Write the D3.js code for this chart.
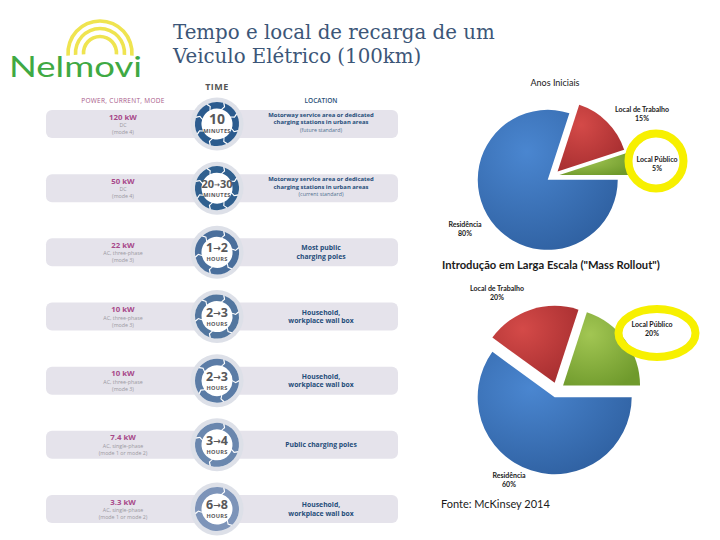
<!DOCTYPE html>
<html><head><meta charset="utf-8">
<script src="https://cdn.jsdelivr.net/npm/d3@7"></script>
<style>html,body{margin:0;padding:0;background:#fff;}svg{display:block;}</style>
</head><body>
<svg id="chart" width="720" height="540"></svg>
<script>
// ---------- data ----------
const rowPower = ["120 kW","50 kW","22 kW","10 kW","10 kW","7.4 kW","3.3 kW"];
const rowCurrent = ["DC","DC","AC, three-phase","AC, three-phase","AC, three-phase","AC, single-phase","AC, single-phase"];
const rowMode = ["(mode 4)","(mode 4)","(mode 3)","(mode 3)","(mode 3)","(mode 1 or mode 2)","(mode 1 or mode 2)"];
const rowTimeFrom = ["10","20","1","2","2","3","6"];
const rowTimeTo = ["","30","2","3","3","4","8"];
const rowUnit = ["MINUTES","MINUTES","HOURS","HOURS","HOURS","HOURS","HOURS"];
const rowLocation = [
  ["Motorway service area or dedicated","charging stations in urban areas"],
  ["Motorway service area or dedicated","charging stations in urban areas"],
  ["Most public","charging poles"],
  ["Household,","workplace wall box"],
  ["Household,","workplace wall box"],
  ["Public charging poles"],
  ["Household,","workplace wall box"]
];
const rowLocationNote = ["(future standard)","(current standard)","","","","",""];
const pieCategories = ["Residência","Local de Trabalho","Local Público"];
const earlyShares = [80,15,5];
const massShares = [60,20,20];

// ---------- styles ----------
const ringColors = ["#2b5b8e","#30608f","#4a6f9c","#52769f","#5b7ca6","#6a87ae","#7d94b9"];
const ringSegments = [8,8,6,6,5,4,3];
const svg = d3.select("#chart");
const defs = svg.append("defs");

// ---------- logo ----------
const logo = svg.append("g");
[32,24.5,16.5].forEach(r=>{
  logo.append("path").attr("d", d3.arc()({innerRadius:r-1.8, outerRadius:r+1.8, startAngle:-Math.PI/2-0.08, endAngle:Math.PI/2+0.08}))
    .attr("transform","translate(100,53)").attr("fill","#efe450");
});
logo.append("text").attr("x",9).attr("y",77).attr("font-family","Lato, 'Open Sans', sans-serif")
  .attr("font-size",28).attr("font-weight",400).attr("fill","#3fa943").attr("textLength",133).attr("lengthAdjust","spacingAndGlyphs").text("Nelmovi");

// ---------- title ----------
const title = svg.append("text").attr("font-family","'DejaVu Serif', Georgia, serif").attr("font-size",19.8).attr("fill","#3c5678");
title.append("tspan").attr("x",173).attr("y",39).text("Tempo e local de recarga de um");
title.append("tspan").attr("x",173).attr("y",63).text("Veiculo Elétrico (100km)");

// ---------- left infographic ----------
const left = svg.append("g").attr("font-family","'Open Sans', sans-serif");
const y = d3.scalePoint().domain(d3.range(rowPower.length)).range([124,509]);
const cx = 217, barX0 = 46, barX1 = 398, powerX = 123, locX = 321;

left.append("text").attr("x",cx).attr("y",90).attr("text-anchor","middle").attr("font-size",9).attr("font-weight",700).attr("fill","#555").attr("letter-spacing",0.5).text("TIME");
left.append("text").attr("x",powerX).attr("y",103).attr("text-anchor","middle").attr("font-size",6.5).attr("fill","#a85a8a").attr("letter-spacing",0.3).text("POWER, CURRENT, MODE");
left.append("text").attr("x",locX).attr("y",103).attr("text-anchor","middle").attr("font-size",6.5).attr("fill","#2a5078").attr("font-weight",600).text("LOCATION");

function ringSeg(a0,a1,ri,ro,t){
  const rm=(ri+ro)/2;
  const p=(r,a)=>[r*Math.sin(a),-r*Math.cos(a)];
  const [x0,y0]=p(ro,a0),[x1,y1]=p(ro,a1),[xt,yt]=p(rm,a1+t),[xi1,yi1]=p(ri,a1),[xi0,yi0]=p(ri,a0),[xn,yn]=p(rm,a0+t);
  return `M${x0},${y0}A${ro},${ro} 0 0 1 ${x1},${y1}L${xt},${yt}L${xi1},${yi1}A${ri},${ri} 0 0 0 ${xi0},${yi0}L${xn},${yn}Z`;
}

const rows = left.selectAll("g.row").data(d3.range(rowPower.length)).join("g").attr("class","row")
  .attr("transform",i=>`translate(0,${y(i)})`);
rows.append("rect").attr("x",barX0).attr("y",-14).attr("width",barX1-barX0).attr("height",28).attr("rx",6).attr("fill","#e5e3eb");
rows.append("circle").attr("cx",cx).attr("cy",0).attr("r",26.5).attr("fill","#dde0e8");
rows.append("circle").attr("cx",cx).attr("cy",0).attr("r",22).attr("fill","#fff");
rows.each(function(i){
  const g=d3.select(this).append("g").attr("transform",`translate(${cx},0)`);
  const n=ringSegments[i], step=2*Math.PI/n, gap=0.07;
  for(let k=0;k<n;k++){
    const a0=k*step+0.35, a1=a0+step-gap;
    g.append("path").attr("d",ringSeg(a0,a1,15.5,22,0.1)).attr("fill",ringColors[i]);
  }
});
const tt = rows.append("text").attr("x",cx).attr("y",0).attr("text-anchor","middle").attr("font-weight",700).attr("fill","#58585a");
tt.append("tspan").attr("font-size",i=>rowTimeTo[i]?(rowTimeTo[i].length>1?11:12.5):14).text(i=>rowTimeFrom[i]);
tt.filter(i=>rowTimeTo[i]).append("tspan").attr("font-size",i=>rowTimeTo[i].length>1?7:9).attr("dy",-1).attr("font-family","'DejaVu Sans', sans-serif").text("\u2192");
tt.filter(i=>rowTimeTo[i]).append("tspan").attr("font-size",i=>rowTimeTo[i].length>1?11:12.5).attr("dy",1).text(i=>rowTimeTo[i]);
rows.append("text").attr("x",cx).attr("y",9).attr("text-anchor","middle").attr("font-size",5.6).attr("font-weight",700).attr("fill","#58585a").attr("letter-spacing",0.3).text(i=>rowUnit[i]);
rows.append("text").attr("x",powerX).attr("y",-4.5).attr("text-anchor","middle").attr("font-size",7.8).attr("font-weight",700).attr("fill","#a8498a").text(i=>rowPower[i]);
rows.append("text").attr("x",powerX).attr("y",3).attr("text-anchor","middle").attr("font-size",5.3).attr("fill","#9a98a0").text(i=>rowCurrent[i]);
rows.append("text").attr("x",powerX).attr("y",10).attr("text-anchor","middle").attr("font-size",5.3).attr("fill","#9a98a0").text(i=>rowMode[i]);
rows.each(function(i){
  const lines=rowLocation[i].slice(), g=d3.select(this);
  const note=rowLocationNote[i];
  const n=lines.length+(note?1:0);
  const sp = n===3?7.4:8.6;
  const fs = n===3?5.9:6.8;
  const start=-(n-1)*sp/2 - (n===3?2:0);
  lines.forEach((s,k)=>g.append("text").attr("x",locX).attr("y",start+k*sp+2.4).attr("text-anchor","middle")
    .attr("font-size",fs).attr("font-weight",700).attr("fill","#1f4d7a").text(s));
  if(note) g.append("text").attr("x",locX).attr("y",start+lines.length*sp+2.2).attr("text-anchor","middle")
    .attr("font-size",5.3).attr("fill","#50708f").text(note);
});

// ---------- pies ----------
function grad(id,c1,c2){
  const g=defs.append("radialGradient").attr("id",id).attr("cx","35%").attr("cy","30%").attr("r","80%").attr("gradientUnits","objectBoundingBox");
  g.append("stop").attr("offset","0%").attr("stop-color",c1);
  g.append("stop").attr("offset","100%").attr("stop-color",c2);
}
grad("gBlue","#4a86d0","#2e5f9f");
grad("gRed","#d44a48","#a52d2f");
grad("gGreen","#a2c653","#6f9a2c");
const pieFills=["url(#gBlue)","url(#gRed)","url(#gGreen)"];
const pie=d3.pie().sort(null).startAngle(Math.PI/2).endAngle(Math.PI/2+2*Math.PI);

function drawPie(values,cxp,cyp,r,explode){
  const g=svg.append("g").attr("transform",`translate(${cxp},${cyp})`);
  const arc=d3.arc().innerRadius(0).outerRadius(r);
  g.selectAll("path").data(pie(values)).join("path")
    .attr("transform",d=>{const m=(d.startAngle+d.endAngle)/2;return `translate(${explode*Math.sin(m)},${-explode*Math.cos(m)})`;})
    .attr("d",arc).attr("fill",(d,i)=>pieFills[i]);
  return g;
}
drawPie(earlyShares,553,176,70,6.5);
drawPie(massShares,557,390,77,7.5);

const pieText = svg.append("g").attr("font-family","Lato, 'Open Sans', sans-serif").attr("fill","#1a1a1a");
pieText.append("text").attr("x",555).attr("y",86).attr("text-anchor","middle").attr("font-size",9).text("Anos Iniciais");
pieText.append("text").attr("x",442).attr("y",269).attr("font-size",11.2).attr("font-weight",700).text("Introdução em Larga Escala (\"Mass Rollout\")");
pieText.append("text").attr("x",441).attr("y",508).attr("font-size",11).text("Fonte: McKinsey 2014");

// yellow highlights
svg.append("circle").attr("cx",656).attr("cy",161).attr("r",27.5).attr("fill","none").attr("stroke","#f7f000").attr("stroke-width",8);
svg.append("ellipse").attr("cx",657).attr("cy",333).attr("rx",38.5).attr("ry",24).attr("fill","none").attr("stroke","#f7f000").attr("stroke-width",8);

const earlyLabelPos=[[465,225],[642,110],[657,160]];
const massLabelPos=[[509,476],[497,289],[652,325]];
function labels(values,pos){
  values.forEach((v,i)=>{
    const t=pieText.append("text").attr("text-anchor","middle").attr("font-size",7).attr("font-weight",700);
    t.append("tspan").attr("x",pos[i][0]).attr("y",pos[i][1]+2).text(pieCategories[i]);
    t.append("tspan").attr("x",pos[i][0]).attr("y",pos[i][1]+11).text(v+"%");
  });
}
labels(earlyShares,earlyLabelPos);
labels(massShares,massLabelPos);
</script>
</body></html>
